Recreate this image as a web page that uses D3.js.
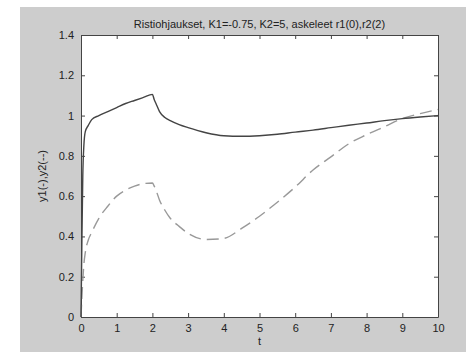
<!DOCTYPE html>
<html>
<head>
<meta charset="utf-8">
<script src="https://cdn.jsdelivr.net/npm/d3@7"></script>
<style>
  body { margin: 0; background: #fff; }
  svg { display: block; font-family: "Liberation Sans", Arial, sans-serif; }
  .tick text { font-size: 11px; fill: #222; }
</style>
</head>
<body>
<svg></svg>
<script>
var width = 466,
    height = 352;

// simulation time
var tValues = [0, 0.02, 0.05, 0.08, 0.12, 0.2, 0.3, 0.5, 0.75, 1, 1.25, 1.5, 1.75, 2,
    2.05, 2.1, 2.2, 2.35, 2.5, 2.75, 3, 3.5, 4, 4.5, 5, 5.5, 6, 6.5, 7, 7.5, 8, 8.5, 9, 9.5, 10];
// y1 (solid)
var y1Values = [0, 0.3, 0.7, 0.85, 0.92, 0.95, 0.98, 1.0, 1.02, 1.04, 1.06, 1.075, 1.09, 1.105,
    1.08, 1.06, 1.02, 0.99, 0.975, 0.955, 0.94, 0.915, 0.9, 0.897, 0.9, 0.907, 0.918, 0.928,
    0.94, 0.952, 0.963, 0.975, 0.985, 0.993, 1.0];
// y2 (dashed)
var y2Values = [0, 0.08, 0.18, 0.26, 0.32, 0.38, 0.42, 0.49, 0.55, 0.6, 0.63, 0.65, 0.662, 0.665,
    0.65, 0.63, 0.58, 0.53, 0.49, 0.45, 0.415, 0.385, 0.39, 0.44, 0.5, 0.57, 0.645, 0.73,
    0.795, 0.86, 0.905, 0.945, 0.985, 1.01, 1.03];

var xTicks = [0, 1, 2, 3, 4, 5, 6, 7, 8, 9, 10];
var yTicks = [0, 0.2, 0.4, 0.6, 0.8, 1, 1.2, 1.4];

var plot = { left: 81, right: 438, top: 35, bottom: 317 };

var svg = d3.select("svg")
    .attr("width", width)
    .attr("height", height);

// grey figure background
svg.append("rect")
    .attr("x", 20).attr("y", 7)
    .attr("width", width - 20).attr("height", height - 7)
    .attr("fill", "#cdcdcd");

svg.append("rect")
    .attr("x", plot.left).attr("y", plot.top)
    .attr("width", plot.right - plot.left).attr("height", plot.bottom - plot.top)
    .attr("fill", "#fff");

var x = d3.scaleLinear().domain([0, 10]).range([plot.left, plot.right]);
var y = d3.scaleLinear().domain([0, 1.4]).range([plot.bottom, plot.top]);

function styleAxis(g) {
    g.select(".domain").attr("stroke", "#444");
    g.selectAll(".tick line").attr("stroke", "#444");
}

svg.append("g")
    .attr("transform", "translate(0," + plot.bottom + ")")
    .call(d3.axisBottom(x).tickValues(xTicks).tickSize(-4).tickSizeOuter(0).tickPadding(7).tickFormat(d3.format("d")))
    .call(styleAxis);
svg.append("g")
    .attr("transform", "translate(0," + plot.top + ")")
    .call(d3.axisTop(x).tickValues(xTicks).tickSize(-4).tickSizeOuter(0).tickFormat(""))
    .call(styleAxis);
svg.append("g")
    .attr("transform", "translate(" + plot.left + ",0)")
    .call(d3.axisLeft(y).tickValues(yTicks).tickSize(-4).tickSizeOuter(0).tickPadding(7).tickFormat(d => d3.format("")(+d.toFixed(1))))
    .call(styleAxis);
svg.append("g")
    .attr("transform", "translate(" + plot.right + ",0)")
    .call(d3.axisRight(y).tickValues(yTicks).tickSize(-4).tickSizeOuter(0).tickFormat(""))
    .call(styleAxis);

var line1 = d3.line()
    .x((d, i) => x(tValues[i]))
    .y(d => y(d))
    .curve(d3.curveMonotoneX);

svg.append("path")
    .datum(y2Values)
    .attr("fill", "none")
    .attr("stroke", "#999")
    .attr("stroke-width", 1.4)
    .attr("stroke-dasharray", "12,6")
    .attr("d", line1);

svg.append("path")
    .datum(y1Values)
    .attr("fill", "none")
    .attr("stroke", "#444")
    .attr("stroke-width", 1.4)
    .attr("d", line1);

svg.append("text")
    .attr("x", (plot.left + plot.right) / 2)
    .attr("y", 28)
    .attr("text-anchor", "middle")
    .attr("font-size", 11)
    .attr("fill", "#222")
    .text("Ristiohjaukset, K1=-0.75, K2=5, askeleet r1(0),r2(2)");

svg.append("text")
    .attr("x", (plot.left + plot.right) / 2)
    .attr("y", 345)
    .attr("text-anchor", "middle")
    .attr("font-size", 11)
    .attr("fill", "#222")
    .text("t");

svg.append("text")
    .attr("transform", "translate(46," + y(0.7) + ") rotate(-90)")
    .attr("text-anchor", "middle")
    .attr("font-size", 11)
    .attr("fill", "#222")
    .text("y1(-),y2(--)");
</script>
</body>
</html>
